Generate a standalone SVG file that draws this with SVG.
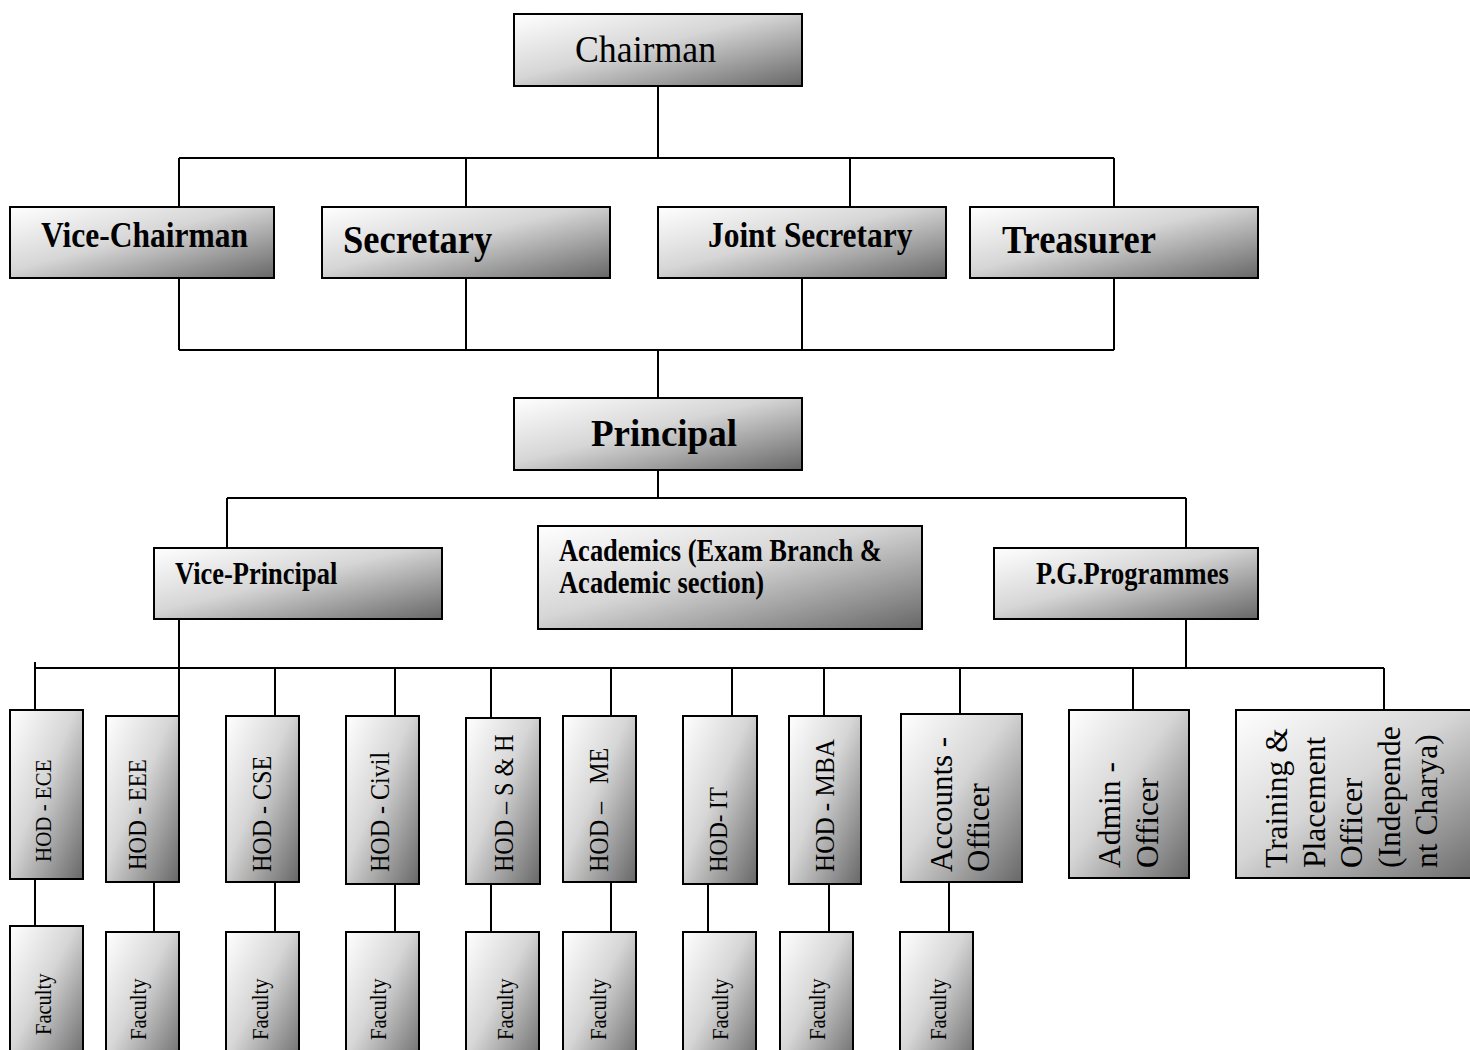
<svg xmlns="http://www.w3.org/2000/svg" width="1470" height="1050" viewBox="0 0 1470 1050">
<defs>
<linearGradient id="g" x1="0" y1="0" x2="1" y2="1">
<stop offset="0" stop-color="#ffffff"/>
<stop offset="0.45" stop-color="#d6d6d6"/>
<stop offset="1" stop-color="#676767"/>
</linearGradient>
<style>
rect.b{fill:url(#g);stroke:#000;stroke-width:2}
text{font-family:"Liberation Serif","Times New Roman",serif;fill:#000}
.bd{font-weight:bold}
.c path{stroke:#000;stroke-width:2;fill:none}
</style>
</defs>
<rect width="1470" height="1050" fill="#fff"/>
<g class="c" id="connectors">
<path d="M658,86 V158 M179,158 H1114 M179,158 V207 M466,158 V207 M850,158 V207 M1114,158 V207"/>
<path d="M179,278 V350 M466,278 V350 M802,278 V350 M1114,278 V350 M179,350 H1114 M658,350 V398"/>
<path d="M658,470 V498 M227,498 H1186 M227,498 V548 M1186,498 V548"/>
<path d="M179,619 V716 M35,662 V710 M35,668 H1384 M1186,619 V668"/>
<path d="M275,668 V716 M395,668 V716 M491,668 V718 M611,668 V716 M732,668 V716 M824,668 V716 M960,668 V714 M1133,668 V710 M1384,668 V710"/>
<path d="M35,879 V926 M154,882 V932 M275,882 V932 M395,884 V932 M491,884 V932 M611,882 V932 M708,884 V932 M829,884 V932 M949,882 V932"/>
</g>
<g id="chairman"><rect class="b" x="514" y="14" width="288" height="72"/><text transform="translate(575,62) scale(0.93,1)" font-size="38.5">Chairman</text></g>
<g id="vice-chairman"><rect class="b" x="10" y="207" width="264" height="71"/><text class="bd" transform="translate(41,247) scale(0.88,1)" font-size="35.8">Vice-Chairman</text></g>
<g id="secretary"><rect class="b" x="322" y="207" width="288" height="71"/><text class="bd" transform="translate(343,253) scale(0.89,1)" font-size="41">Secretary</text></g>
<g id="joint-secretary"><rect class="b" x="658" y="207" width="288" height="71"/><text class="bd" transform="translate(708,247) scale(0.88,1)" font-size="35.7">Joint Secretary</text></g>
<g id="treasurer"><rect class="b" x="970" y="207" width="288" height="71"/><text class="bd" transform="translate(1002,253) scale(0.89,1)" font-size="41">Treasurer</text></g>
<g id="principal"><rect class="b" x="514" y="398" width="288" height="72"/><text class="bd" x="591" y="446" font-size="37">Principal</text></g>
<g id="vice-principal"><rect class="b" x="154" y="548" width="288" height="71"/><text class="bd" transform="translate(175,584) scale(0.86,1)" font-size="30.8">Vice-Principal</text></g>
<g id="academics"><rect class="b" x="538" y="526" width="384" height="103"/><text class="bd" transform="translate(559,561) scale(0.86,1)" font-size="30.8">Academics (Exam Branch &amp;<tspan x="0" y="32">Academic section)</tspan></text></g>
<g id="pg-programmes"><rect class="b" x="994" y="548" width="264" height="71"/><text class="bd" transform="translate(1036,584) scale(0.86,1)" font-size="30.8">P.G.Programmes</text></g>

<g id="hod-ece"><rect class="b" x="10" y="710" width="73" height="169"/><text transform="translate(51,862) rotate(-90) scale(0.9,1)" font-size="23.3">HOD - ECE</text></g>
<g id="hod-eee"><rect class="b" x="106" y="716" width="73" height="166"/><text transform="translate(146,870) rotate(-90) scale(0.9,1)" font-size="25.5">HOD - EEE</text></g>
<g id="hod-cse"><rect class="b" x="226" y="716" width="73" height="166"/><text transform="translate(271,872) rotate(-90) scale(0.9,1)" font-size="26.7">HOD - CSE</text></g>
<g id="hod-civil"><rect class="b" x="346" y="716" width="73" height="168"/><text transform="translate(389,872) rotate(-90) scale(0.9,1)" font-size="26.7">HOD - Civil</text></g>
<g id="hod-sh"><rect class="b" x="466" y="718" width="74" height="166"/><text transform="translate(513,872) rotate(-90) scale(0.9,1)" font-size="26.7">HOD – S &amp; H</text></g>
<g id="hod-me"><rect class="b" x="563" y="716" width="73" height="166"/><text transform="translate(608,872) rotate(-90) scale(0.9,1)" font-size="26.7">HOD –&#160;&#160;&#160;ME</text></g>
<g id="hod-it"><rect class="b" x="683" y="716" width="74" height="168"/><text transform="translate(727,872) rotate(-90) scale(0.9,1)" font-size="25.5">HOD- IT</text></g>
<g id="hod-mba"><rect class="b" x="789" y="716" width="72" height="168"/><text transform="translate(834,872) rotate(-90) scale(0.9,1)" font-size="28">HOD - MBA</text></g>
<g id="accounts-officer"><rect class="b" x="901" y="714" width="121" height="168"/><text transform="translate(952,872) rotate(-90)" font-size="31">Accounts -<tspan x="0" dy="37">Officer</tspan></text></g>
<g id="admin-officer"><rect class="b" x="1069" y="710" width="120" height="168"/><text transform="translate(1120,868) rotate(-90)" font-size="31.5">Admin -<tspan x="0" dy="38">Officer</tspan></text></g>
<g id="training-placement"><rect class="b" x="1236" y="710" width="250" height="168"/><text transform="translate(1287,868) rotate(-90)" font-size="31.5">Training &amp;<tspan x="0" dy="37.5">Placement</tspan><tspan x="0" dy="37.5">Officer</tspan><tspan x="0" dy="37.5">(Independe</tspan><tspan x="0" dy="37.5">nt Charya)</tspan></text></g>

<g id="faculty-ece"><rect class="b" x="10" y="926" width="73" height="140"/><text transform="translate(51,1035) rotate(-90) scale(0.9,1)" font-size="22.8">Faculty</text></g>
<g id="faculty-eee"><rect class="b" x="106" y="932" width="73" height="140"/><text transform="translate(146,1040) rotate(-90) scale(0.9,1)" font-size="22.8">Faculty</text></g>
<g id="faculty-cse"><rect class="b" x="226" y="932" width="73" height="140"/><text transform="translate(268,1040) rotate(-90) scale(0.9,1)" font-size="22.8">Faculty</text></g>
<g id="faculty-civil"><rect class="b" x="346" y="932" width="73" height="140"/><text transform="translate(386,1040) rotate(-90) scale(0.9,1)" font-size="22.8">Faculty</text></g>
<g id="faculty-sh"><rect class="b" x="466" y="932" width="73" height="140"/><text transform="translate(513,1040) rotate(-90) scale(0.9,1)" font-size="22.8">Faculty</text></g>
<g id="faculty-me"><rect class="b" x="563" y="932" width="73" height="140"/><text transform="translate(606,1040) rotate(-90) scale(0.9,1)" font-size="22.8">Faculty</text></g>
<g id="faculty-it"><rect class="b" x="683" y="932" width="73" height="140"/><text transform="translate(728,1040) rotate(-90) scale(0.9,1)" font-size="22.8">Faculty</text></g>
<g id="faculty-mba"><rect class="b" x="780" y="932" width="73" height="140"/><text transform="translate(825,1040) rotate(-90) scale(0.9,1)" font-size="22.8">Faculty</text></g>
<g id="faculty-accounts"><rect class="b" x="900" y="932" width="73" height="140"/><text transform="translate(946,1040) rotate(-90) scale(0.9,1)" font-size="22.8">Faculty</text></g>
</svg>
